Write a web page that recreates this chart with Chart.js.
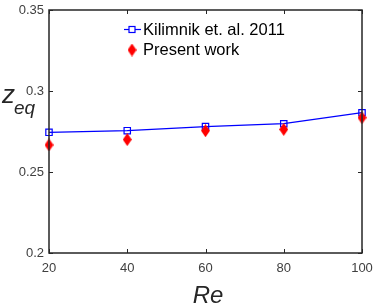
<!DOCTYPE html>
<html>
<head>
<meta charset="utf-8">
<script src="https://cdn.jsdelivr.net/npm/chart.js@4.4.1/dist/chart.umd.min.js"></script>
<style>
  html, body { margin: 0; padding: 0; background: #fff; }
  #wrap { width: 374px; height: 307px; position: relative; }
</style>
</head>
<body>
<div id="wrap"><canvas id="myChart"></canvas></div>
<script>
const reValues = [20, 40, 60, 80, 100];
const kilimnik = [0.2745, 0.2755, 0.278, 0.2798, 0.2866];
const present = [0.2667, 0.2700, 0.2755, 0.2763, 0.2835];
const xTicks = [20, 40, 60, 80, 100];
const yTicks = [0.2, 0.25, 0.3, 0.35];
const legendLabels = ["Kilimnik et. al. 2011", "Present work"];

const blue = "#0000ff";
const red = "#ff0000";
const axisColor = "#262626";

// tall red diamond like the matlab marker
function makeDiamond(w, h, color) {
    let c = document.createElement("canvas");
    c.width = w;
    c.height = h;
    let g = c.getContext("2d");
    g.fillStyle = color;
    g.beginPath();
    g.moveTo(w / 2, 0);
    g.lineTo(w, h / 2);
    g.lineTo(w / 2, h);
    g.lineTo(0, h / 2);
    g.closePath();
    g.fill();
    return c;
}
const diamond = makeDiamond(9, 13, red);

// frame, inward ticks, axis titles and the legend box
const framePlugin = {
    id: "frame",
    afterDraw(chart) {
        const ctx = chart.ctx;
        const a = chart.chartArea;
        const xs = chart.scales.x;
        const ys = chart.scales.y;
        ctx.save();
        ctx.strokeStyle = axisColor;
        ctx.lineWidth = 1.5;
        ctx.strokeRect(a.left, a.top, a.right - a.left, a.bottom - a.top);
        ctx.lineWidth = 1;
        xTicks.forEach((v) => {
            let px = Math.round(xs.getPixelForValue(v)) + 0.5;
            ctx.beginPath();
            ctx.moveTo(px, a.bottom);
            ctx.lineTo(px, a.bottom - 4);
            ctx.moveTo(px, a.top);
            ctx.lineTo(px, a.top + 4);
            ctx.stroke();
        });
        yTicks.forEach((v) => {
            let py = Math.round(ys.getPixelForValue(v)) + 0.5;
            ctx.beginPath();
            ctx.moveTo(a.left, py);
            ctx.lineTo(a.left + 4, py);
            ctx.moveTo(a.right, py);
            ctx.lineTo(a.right - 4, py);
            ctx.stroke();
        });

        // axis titles
        ctx.fillStyle = "#262626";
        ctx.font = "italic 26px 'Liberation Sans', Arial, sans-serif";
        ctx.textAlign = "left";
        ctx.textBaseline = "alphabetic";
        ctx.fillText("z", 2, 103);
        ctx.font = "italic 19px 'Liberation Sans', Arial, sans-serif";
        ctx.fillText("eq", 14, 114);
        ctx.font = "italic 24px 'Liberation Sans', Arial, sans-serif";
        ctx.textAlign = "center";
        ctx.fillText("Re", 208, 303);

        // legend
        ctx.font = "16.5px 'Liberation Sans', Arial, sans-serif";
        ctx.textAlign = "left";
        ctx.textBaseline = "middle";
        ctx.strokeStyle = blue;
        ctx.lineWidth = 1.2;
        ctx.beginPath();
        ctx.moveTo(124, 29.5);
        ctx.lineTo(141, 29.5);
        ctx.stroke();
        ctx.fillStyle = "#fff";
        ctx.fillRect(129, 26.5, 6, 6);
        ctx.strokeRect(129, 26.5, 6, 6);
        ctx.drawImage(diamond, 127.5, 43.5);
        ctx.fillStyle = "#000";
        ctx.fillText(legendLabels[0], 143, 30);
        ctx.fillText(legendLabels[1], 143, 50);
        ctx.restore();
    },
};

const data = {
    datasets: [
        {
            label: legendLabels[0],
            data: reValues.map((x, i) => ({ x: x, y: kilimnik[i] })),
            showLine: true,
            borderColor: blue,
            backgroundColor: "rgba(0,0,0,0)",
            borderWidth: 1.3,
            pointStyle: "rect",
            pointRadius: 4.5,
            pointBorderWidth: 1.2,
            pointBorderColor: blue,
            pointBackgroundColor: "rgba(255,255,255,0)",
            tension: 0,
            clip: false,
            order: 2,
        },
        {
            label: legendLabels[1],
            data: reValues.map((x, i) => ({ x: x, y: present[i] })),
            showLine: false,
            pointStyle: diamond,
            clip: false,
            order: 1,
        },
    ],
};

const config = {
    type: "scatter",
    data: data,
    options: {
        responsive: true,
        maintainAspectRatio: false,
        animation: false,
        layout: { padding: { left: 0, top: 10, right: 12, bottom: 0 } },
        plugins: {
            legend: { display: false },
            tooltip: { enabled: false },
        },
        scales: {
            x: {
                type: "linear",
                min: 20,
                max: 100,
                afterBuildTicks: (s) => { s.ticks = xTicks.map((v) => ({ value: v })); },
                afterFit: (s) => { s.height = 54; s.paddingLeft = 0; s.paddingRight = 0; },
                grid: { display: false, drawTicks: false },
                border: { display: false },
                ticks: {
                    padding: 8,
                    color: "#404040",
                    font: { family: "'Liberation Sans', Arial, sans-serif", size: 13 },
                },
            },
            y: {
                min: 0.2,
                max: 0.35,
                afterBuildTicks: (s) => { s.ticks = yTicks.map((v) => ({ value: v })); },
                afterFit: (s) => { s.width = 49; s.paddingTop = 0; s.paddingBottom = 0; },
                grid: { display: false, drawTicks: false },
                border: { display: false },
                ticks: {
                    padding: 5,
                    color: "#404040",
                    font: { family: "'Liberation Sans', Arial, sans-serif", size: 13 },
                    callback: (v) => String(Math.round(v * 100) / 100),
                },
            },
        },
    },
    plugins: [framePlugin],
};

const chart = new Chart(document.getElementById("myChart").getContext("2d"), config);
</script>
</body>
</html>
